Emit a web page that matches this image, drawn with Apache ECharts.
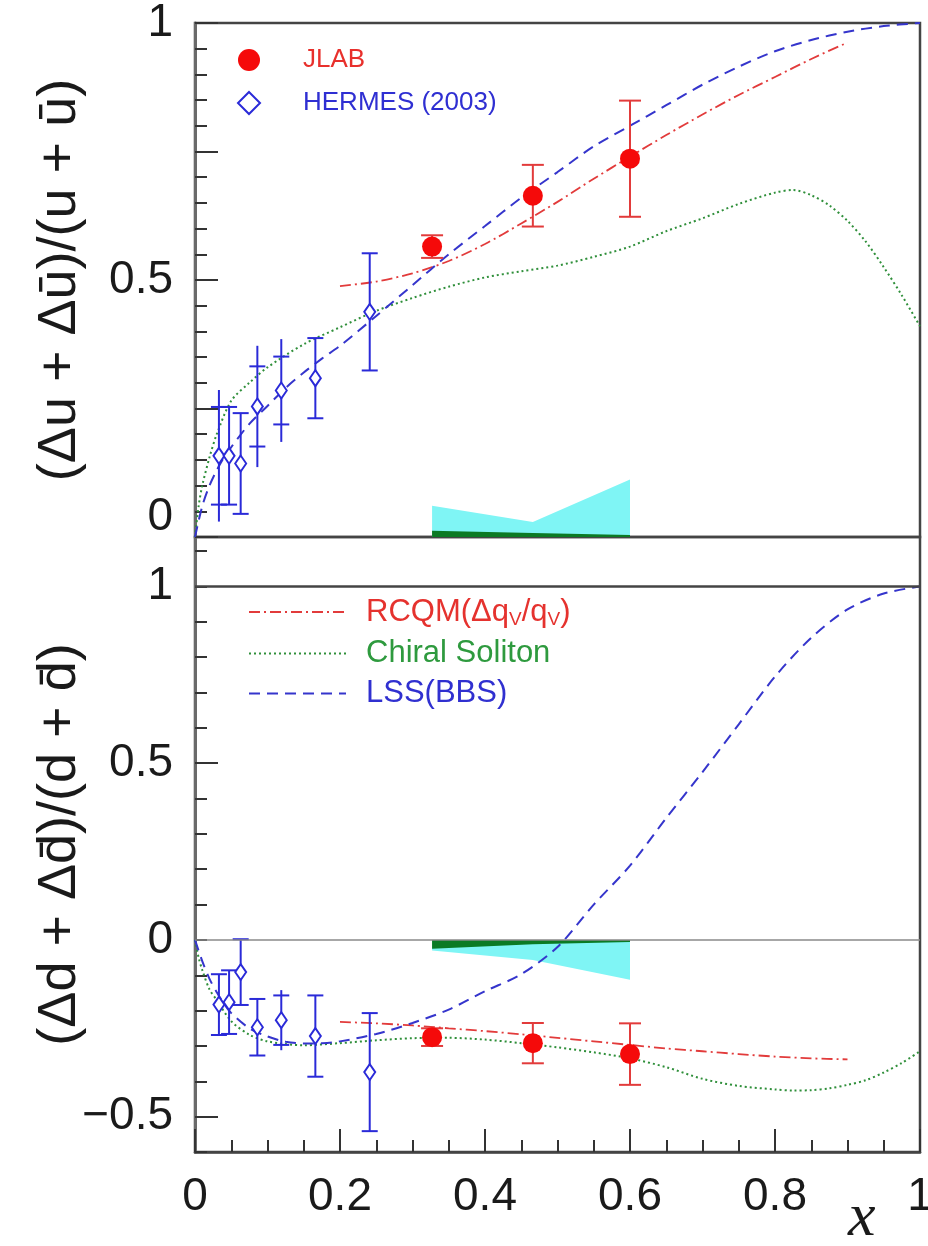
<!DOCTYPE html>
<html><head><meta charset="utf-8">
<script src="https://cdn.jsdelivr.net/npm/echarts@6/dist/echarts.min.js"></script>
<style>html,body{margin:0;padding:0;background:#fff}#c{width:928px;height:1246px}</style>
</head><body><div id="c"></div>
<script>
// ---------- data ----------
const jlabX = [0.327, 0.466, 0.6];
const jlabU = [0.565, 0.664, 0.736];
const jlabUErr = [0.022, 0.06, 0.113];
const jlabD = [-0.275, -0.292, -0.323];
const jlabDErr = [0.025, 0.057, 0.087];

const hermesX = [0.033, 0.047, 0.063, 0.086, 0.119, 0.166, 0.241];
const hermesU = [0.158, 0.158, 0.143, 0.254, 0.285, 0.309, 0.438];
const hermesUErr = [0.128, 0.095, 0.098, 0.118, 0.1, 0.078, 0.114];
const hermesUCap = [0.095, 0.095, 0.098, 0.078, 0.066, 0.078, 0.114];
const hermesD = [-0.183, -0.176, -0.091, -0.247, -0.227, -0.272, -0.374];
const hermesDErr = [0.086, 0.09, 0.093, 0.08, 0.085, 0.115, 0.167];
const hermesDCap = [0.086, 0.09, 0.093, 0.08, 0.07, 0.115, 0.167];

const bandX = [0.327, 0.466, 0.6];
const bandUCyan = [0.061, 0.029, 0.112];
const bandUGreen = [0.012, 0.008, 0.004];
const bandDCyan = [-0.03, -0.057, -0.113];
const bandDGreen = [-0.025, -0.012, -0.006];

const rcqmX = [0.2, 0.25, 0.3, 0.35, 0.4, 0.45, 0.5, 0.55, 0.6, 0.65, 0.7, 0.75, 0.8, 0.85, 0.9];
const rcqmU = [0.488, 0.497, 0.513, 0.537, 0.57, 0.61, 0.652, 0.697, 0.74, 0.782, 0.822, 0.86, 0.895, 0.93, 0.962];
const rcqmD = [-0.232, -0.236, -0.242, -0.25, -0.258, -0.267, -0.277, -0.287, -0.297, -0.307, -0.315, -0.323, -0.33, -0.335, -0.338];

const solX = [0, 0.005, 0.01, 0.02, 0.03, 0.05, 0.075, 0.1, 0.15, 0.2, 0.25, 0.3, 0.35, 0.4, 0.45, 0.5, 0.55, 0.6, 0.65, 0.7, 0.75, 0.8, 0.825, 0.85, 0.875, 0.9, 0.925, 0.95, 0.975, 1.0];
const solU = [0, 0.06, 0.1, 0.155, 0.2, 0.265, 0.3, 0.33, 0.375, 0.408, 0.44, 0.465, 0.487, 0.505, 0.517, 0.528, 0.545, 0.565, 0.595, 0.62, 0.648, 0.67, 0.675, 0.665, 0.645, 0.615, 0.575, 0.525, 0.47, 0.41];
const solD = [0, -0.05, -0.085, -0.14, -0.17, -0.23, -0.268, -0.287, -0.298, -0.292, -0.284, -0.278, -0.277, -0.282, -0.292, -0.304, -0.318, -0.335, -0.36, -0.393, -0.413, -0.423, -0.426, -0.425, -0.42, -0.41, -0.397, -0.375, -0.348, -0.315];

const lssX = [0, 0.01, 0.02, 0.03, 0.04, 0.05, 0.075, 0.1, 0.125, 0.15, 0.175, 0.2, 0.25, 0.3, 0.35, 0.4, 0.45, 0.5, 0.55, 0.6, 0.65, 0.7, 0.75, 0.8, 0.85, 0.9, 0.95, 1.0];
const lssU = [0, 0.06, 0.1, 0.13, 0.155, 0.175, 0.22, 0.255, 0.29, 0.32, 0.347, 0.372, 0.43, 0.49, 0.55, 0.605, 0.66, 0.71, 0.76, 0.8, 0.84, 0.88, 0.915, 0.945, 0.967, 0.983, 0.994, 1.0];
const lssD = [0, -0.06, -0.11, -0.148, -0.18, -0.207, -0.25, -0.273, -0.288, -0.293, -0.292, -0.287, -0.266, -0.235, -0.197, -0.145, -0.097, -0.02, 0.1, 0.21, 0.345, 0.475, 0.61, 0.745, 0.855, 0.935, 0.98, 1.0];

const xTickLabels = ['0', '0.2', '0.4', '0.6', '0.8', '1'];
const yTopLabels = ['0', '0.5', '1'];
const yBotLabels = ['−0.5', '0', '0.5', '1'];

const NAME_JLAB = 'JLAB', NAME_HERMES = 'HERMES (2003)';
const NAME_RCQM = 'RCQM(Δq_V/q_V)', NAME_SOL = 'Chiral Soliton', NAME_LSS = 'LSS(BBS)';

// ---------- helpers ----------
const zip = (xs, ys) => xs.map((x, i) => [x, ys[i]]);
const zipErr = (xs, ys, es, cs) => xs.map((x, i) => [x, ys[i], es[i], cs ? cs[i] : es[i]]);
const FONT = 'Liberation Sans';
const C_RED = '#f50a0a', C_RED_L = '#e23b3b', C_BLUE = '#2a2ad8', C_GREEN = '#2f8f3a';
const C_CYAN = '#7ff5f5', C_DKGREEN = '#0b7a24';

function errRender(color, capW) {
  return function (params, api) {
    const x = api.value(0), y = api.value(1), e = api.value(2), c = api.value(3);
    const t = api.coord([x, y + e]), b = api.coord([x, y - e]);
    const ct = api.coord([x, y + c]), cb = api.coord([x, y - c]);
    const st = { stroke: color, lineWidth: 2 };
    return { type: 'group', children: [
      { type: 'line', shape: { x1: t[0], y1: t[1], x2: b[0], y2: b[1] }, style: st },
      { type: 'line', shape: { x1: ct[0] - capW, y1: ct[1], x2: ct[0] + capW, y2: ct[1] }, style: st },
      { type: 'line', shape: { x1: cb[0] - capW, y1: cb[1], x2: cb[0] + capW, y2: cb[1] }, style: st }
    ]};
  };
}

function panelSeries(xi, yi, d) {
  return [
    { type: 'line', xAxisIndex: xi, yAxisIndex: yi, data: zip(bandX, d.cyan), symbol: 'none', z: 1,
      lineStyle: { width: 0 }, areaStyle: { color: C_CYAN, opacity: 1 }, silent: true, markLine: d.markLine },
    { type: 'line', xAxisIndex: xi, yAxisIndex: yi, data: zip(bandX, d.green), symbol: 'none', z: 1,
      lineStyle: { width: 0 }, areaStyle: { color: C_DKGREEN, opacity: 1 }, silent: true },
    { name: NAME_RCQM, type: 'line', xAxisIndex: xi, yAxisIndex: yi, data: zip(rcqmX, d.rcqm), symbol: 'none', smooth: 0.3, z: 2,
      lineStyle: { color: C_RED_L, width: 1.8, type: [11, 4, 2, 4] }, itemStyle: { color: C_RED_L } },
    { name: NAME_SOL, type: 'line', xAxisIndex: xi, yAxisIndex: yi, data: zip(solX, d.sol), symbol: 'none', smooth: 0.3, z: 2,
      lineStyle: { color: C_GREEN, width: 2, type: [2, 3] }, itemStyle: { color: C_GREEN } },
    { name: NAME_LSS, type: 'line', xAxisIndex: xi, yAxisIndex: yi, data: zip(lssX, d.lss), symbol: 'none', smooth: 0.3, z: 2,
      lineStyle: { color: '#3535cc', width: 2, type: [11, 7] }, itemStyle: { color: '#3535cc' } },
    { type: 'custom', xAxisIndex: xi, yAxisIndex: yi, data: d.hermesErr, renderItem: errRender(C_BLUE, 8), z: 3, silent: true },
    { name: NAME_HERMES, type: 'scatter', xAxisIndex: xi, yAxisIndex: yi, data: d.hermes, symbol: 'diamond', symbolSize: [11, 16], z: 4,
      itemStyle: { color: '#ffffff', borderColor: C_BLUE, borderWidth: 2, opacity: 1 } },
    { type: 'custom', xAxisIndex: xi, yAxisIndex: yi, data: d.jlabErr, renderItem: errRender(C_RED_L, 11), z: 3, silent: true },
    { name: NAME_JLAB, type: 'scatter', xAxisIndex: xi, yAxisIndex: yi, data: d.jlab, symbol: 'circle', symbolSize: 20, z: 4,
      itemStyle: { color: C_RED, opacity: 1 } }
  ];
}

const topSeries = panelSeries(0, 0, {
  cyan: bandUCyan, green: bandUGreen, rcqm: rcqmU, sol: solU, lss: lssU,
  hermes: zip(hermesX, hermesU), hermesErr: zipErr(hermesX, hermesU, hermesUErr, hermesUCap),
  jlab: zip(jlabX, jlabU), jlabErr: zipErr(jlabX, jlabU, jlabUErr)
});
const botSeries = panelSeries(1, 2, {
  cyan: bandDCyan, green: bandDGreen, rcqm: rcqmD, sol: solD, lss: lssD,
  hermes: zip(hermesX, hermesD), hermesErr: zipErr(hermesX, hermesD, hermesDErr, hermesDCap),
  jlab: zip(jlabX, jlabD), jlabErr: zipErr(jlabX, jlabD, jlabDErr),
  markLine: { silent: true, symbol: 'none', label: { show: false },
    data: [ { yAxis: 1, lineStyle: { color: '#444', width: 2.5, type: 'solid' } },
            { yAxis: 0, lineStyle: { color: '#8a8a8a', width: 1.5, type: 'solid' } } ] }
});

const lbl = (v, arr) => {
  const r = Math.round(v * 100) / 100;
  const s = r < 0 ? '−' + Math.abs(r) : String(r);
  return arr.indexOf(s) >= 0 ? s : '';
};

const AX_LINE = { show: true, onZero: false, lineStyle: { color: '#6a6a6a', width: 3 } };
const NO_LINE = { show: false, onZero: false };
const TICK_S = { show: true, inside: true, length: 12, lineStyle: { color: '#333', width: 2 } };
const TICK_L = { show: true, inside: true, length: 23, lineStyle: { color: '#333', width: 2 } };
const LBL = { fontSize: 46, fontFamily: FONT, color: '#1a1a1a' };
const YNAME = { fontSize: 54, fontFamily: FONT, color: '#1a1a1a' };

const option = {
  backgroundColor: '#fff',
  animation: false,
  grid: [
    { left: 195, top: 23, width: 725, height: 514, show: true, borderColor: '#444', borderWidth: 2.5, outerBoundsMode: 'none', containLabel: false },
    { left: 195, top: 537, width: 725, height: 615, show: true, borderColor: '#444', borderWidth: 2.5, outerBoundsMode: 'none', containLabel: false }
  ],
  xAxis: [
    { type: 'value', gridIndex: 0, min: 0, max: 1, position: 'bottom', show: false, splitLine: { show: false } },
    { type: 'value', gridIndex: 1, min: 0, max: 1, interval: 0.05, position: 'bottom',
      axisLine: { show: true, onZero: false, lineStyle: { color: '#444', width: 2.5 } },
      axisTick: TICK_S, axisLabel: { show: false }, splitLine: { show: false } },
    { type: 'value', gridIndex: 1, min: 0, max: 1, interval: 0.2, position: 'bottom', axisLine: NO_LINE,
      axisTick: TICK_L, splitLine: { show: false },
      axisLabel: Object.assign({ margin: 22, formatter: v => lbl(v, xTickLabels) }, LBL) }
  ],
  yAxis: [
    { type: 'value', gridIndex: 0, min: 0, max: 1, interval: 0.05, position: 'left', axisLine: AX_LINE, axisTick: TICK_S,
      axisLabel: { show: false }, splitLine: { show: false },
      name: '(Δu + Δū)/(u + ū)', nameLocation: 'middle', nameGap: 108, nameTextStyle: YNAME },
    { type: 'value', gridIndex: 0, min: 0, max: 1, interval: 0.25, position: 'left', axisLine: NO_LINE, axisTick: TICK_L,
      splitLine: { show: false },
      axisLabel: Object.assign({ margin: 22, formatter: v => { const s = lbl(v, yTopLabels); return s === '0' ? '{z|0}' : s; },
        rich: { z: { fontSize: 46, fontFamily: FONT, color: '#1a1a1a', padding: [0, 0, 40, 0] } } }, LBL) },
    { type: 'value', gridIndex: 1, min: -0.6, max: 1.14, interval: 0.1, position: 'left', axisLine: AX_LINE, axisTick: TICK_S,
      axisLabel: { show: false }, splitLine: { show: false },
      name: '(Δd + Δd̄)/(d + d̄)', nameLocation: 'middle', nameGap: 108, nameTextStyle: YNAME },
    { type: 'value', gridIndex: 1, min: -0.6, max: 1.14, interval: 0.1, position: 'left', axisLine: NO_LINE,
      axisTick: { show: true, inside: true, length: 23, lineStyle: { color: '#333', width: 2 }, customValues: [-0.5, 0.5] },
      splitLine: { show: false },
      axisLabel: Object.assign({ margin: 22, customValues: [-0.5, 0, 0.5, 1], formatter: v => lbl(v, yBotLabels) }, LBL) }
  ],
  legend: [
    { orient: 'vertical', left: 232, top: 40, itemWidth: 22, itemHeight: 22, itemGap: 13,
      data: [
        { name: NAME_JLAB, textStyle: { color: '#e8302c' } },
        { name: NAME_HERMES, textStyle: { color: '#2f2fd2' } }
      ],
      textStyle: { fontSize: 26, lineHeight: 30, fontFamily: FONT, padding: [0, 0, 0, 38] } },
    { orient: 'vertical', left: 243, top: 591, itemWidth: 97, itemHeight: 14, itemGap: 8,
      itemStyle: { color: 'transparent', borderColor: 'transparent', borderWidth: 0 },
      data: [
        { name: NAME_RCQM, textStyle: { color: '#e5322e' } },
        { name: NAME_SOL, textStyle: { color: '#2e9a3e' } },
        { name: NAME_LSS, textStyle: { color: '#3030d0' } }
      ],
      formatter: n => n === NAME_RCQM ? 'RCQM(Δq{s|V}/q{s|V})' : n,
      textStyle: { fontSize: 31, lineHeight: 32, fontFamily: FONT, padding: [0, 0, 0, 15],
        rich: { s: { fontSize: 19, fontFamily: FONT, color: '#e5322e', padding: [16, 0, 0, 0] } } } }
  ],
  graphic: [
    { type: 'text', left: 848, top: 1188, style: { text: 'x', font: 'italic 62px "Liberation Serif"', fill: '#1a1a1a' } }
  ],
  series: topSeries.concat(botSeries)
};

const chart = echarts.init(document.getElementById('c'), null, { renderer: 'canvas' });
chart.setOption(option);
</script>
</body></html>
